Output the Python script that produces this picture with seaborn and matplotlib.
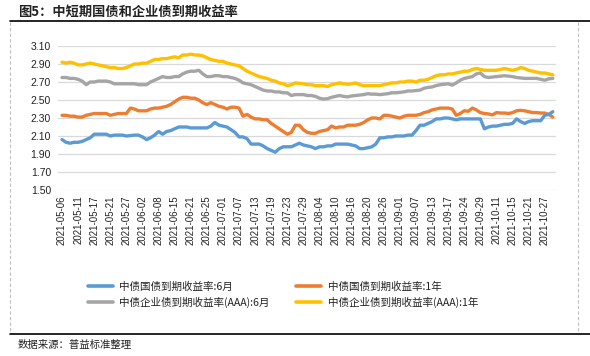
import matplotlib
matplotlib.use("Agg")
import matplotlib.pyplot as plt
from matplotlib.lines import Line2D
import seaborn as sns
import pandas as pd

# ---- data -------------------------------------------------------------
may = [6, 7, 8, 10, 11, 12, 13, 14, 17, 18, 19, 20, 21, 24, 25, 26, 27, 28, 31]
jun = [1, 2, 3, 4, 7, 8, 9, 10, 11, 15, 16, 17, 18, 21, 22, 23, 24, 25, 28, 29, 30]
jul = [1, 2, 5, 6, 7, 8, 9, 12, 13, 14, 15, 16, 19, 20, 21, 22, 23, 26, 27, 28, 29, 30]
aug = [2, 3, 4, 5, 6, 9, 10, 11, 12, 13, 16, 17, 18, 19, 20, 23, 24, 25, 26, 27, 30, 31]
sep = [1, 2, 3, 6, 7, 8, 9, 10, 13, 14, 15, 16, 17, 18, 22, 23, 24, 26, 27, 28, 29, 30]
oct_ = [8, 9, 11, 12, 13, 14, 15, 18, 19, 20, 21, 22, 25, 26, 27, 28, 29]
dates = ([f"2021-05-{d:02d}" for d in may] + [f"2021-06-{d:02d}" for d in jun] +
         [f"2021-07-{d:02d}" for d in jul] + [f"2021-08-{d:02d}" for d in aug] +
         [f"2021-09-{d:02d}" for d in sep] + [f"2021-10-{d:02d}" for d in oct_])

gov_6m = [2.06, 2.03, 2.02, 2.03, 2.03, 2.04, 2.06, 2.08, 2.12, 2.12, 2.12, 2.12, 2.10, 2.11, 2.11, 2.11,
          2.10, 2.105, 2.11, 2.11, 2.09, 2.06, 2.08, 2.11, 2.15, 2.12, 2.15, 2.16, 2.18, 2.20, 2.20, 2.20,
          2.19, 2.19, 2.19, 2.19, 2.19, 2.21, 2.25, 2.22, 2.21, 2.20, 2.17, 2.14, 2.09, 2.09, 2.07, 2.01,
          2.01, 2.01, 1.99, 1.96, 1.94, 1.92, 1.96, 1.98, 1.98, 1.98, 2.00, 2.02, 2.00, 1.99, 1.98, 1.96,
          1.98, 1.98, 1.99, 1.99, 2.01, 2.01, 2.01, 2.01, 2.00, 1.99, 1.96, 1.96, 1.97, 1.98, 2.01, 2.08,
          2.08, 2.09, 2.09, 2.10, 2.10, 2.10, 2.11, 2.11, 2.16, 2.22, 2.22, 2.24, 2.26, 2.29, 2.29, 2.30,
          2.30, 2.29, 2.28, 2.29, 2.29, 2.29, 2.29, 2.29, 2.29, 2.18, 2.20, 2.21, 2.21, 2.22, 2.23, 2.23,
          2.24, 2.29, 2.26, 2.24, 2.26, 2.27, 2.27, 2.27, 2.33, 2.34, 2.37]

gov_1y = [2.33, 2.33, 2.32, 2.32, 2.31, 2.31, 2.33, 2.34, 2.35, 2.35, 2.35, 2.35, 2.33, 2.34, 2.35, 2.35,
          2.35, 2.41, 2.40, 2.38, 2.38, 2.38, 2.40, 2.41, 2.41, 2.42, 2.43, 2.45, 2.48, 2.51, 2.53, 2.53,
          2.52, 2.52, 2.50, 2.47, 2.45, 2.47, 2.45, 2.43, 2.42, 2.40, 2.42, 2.42, 2.41, 2.32, 2.34, 2.31,
          2.29, 2.29, 2.28, 2.28, 2.24, 2.21, 2.18, 2.15, 2.12, 2.14, 2.22, 2.22, 2.17, 2.14, 2.13, 2.13,
          2.15, 2.16, 2.17, 2.21, 2.19, 2.20, 2.20, 2.22, 2.22, 2.22, 2.23, 2.25, 2.28, 2.30, 2.30, 2.29,
          2.33, 2.33, 2.32, 2.31, 2.30, 2.32, 2.33, 2.33, 2.33, 2.34, 2.36, 2.37, 2.39, 2.40, 2.41, 2.41,
          2.41, 2.40, 2.33, 2.35, 2.38, 2.375, 2.41, 2.39, 2.36, 2.35, 2.345, 2.335, 2.36, 2.355, 2.355,
          2.35, 2.36, 2.38, 2.385, 2.38, 2.37, 2.36, 2.36, 2.355, 2.355, 2.34, 2.31]

aaa_6m = [2.75, 2.75, 2.74, 2.74, 2.73, 2.71, 2.67, 2.70, 2.70, 2.71, 2.71, 2.71, 2.70, 2.68, 2.68, 2.68,
          2.68, 2.68, 2.68, 2.67, 2.67, 2.67, 2.70, 2.72, 2.74, 2.76, 2.75, 2.75, 2.76, 2.76, 2.79, 2.81,
          2.82, 2.82, 2.83, 2.79, 2.76, 2.76, 2.77, 2.77, 2.76, 2.76, 2.75, 2.74, 2.72, 2.69, 2.68, 2.67,
          2.65, 2.63, 2.61, 2.60, 2.60, 2.59, 2.59, 2.58, 2.58, 2.55, 2.56, 2.56, 2.56, 2.55, 2.55, 2.54,
          2.52, 2.51, 2.515, 2.53, 2.54, 2.55, 2.54, 2.535, 2.545, 2.55, 2.555, 2.56, 2.57, 2.565, 2.565,
          2.56, 2.565, 2.57, 2.58, 2.58, 2.585, 2.59, 2.60, 2.60, 2.605, 2.61, 2.63, 2.64, 2.645, 2.66,
          2.67, 2.675, 2.68, 2.665, 2.69, 2.72, 2.74, 2.75, 2.76, 2.79, 2.80, 2.76, 2.75, 2.755, 2.76,
          2.765, 2.77, 2.765, 2.76, 2.75, 2.745, 2.74, 2.74, 2.74, 2.74, 2.73, 2.72, 2.735, 2.74]

aaa_1y = [2.92, 2.91, 2.92, 2.91, 2.89, 2.89, 2.90, 2.91, 2.90, 2.89, 2.88, 2.87, 2.86, 2.86, 2.85, 2.85,
          2.86, 2.88, 2.90, 2.90, 2.91, 2.91, 2.93, 2.95, 2.95, 2.96, 2.96, 2.97, 2.98, 2.97, 3.00, 3.00,
          3.01, 3.00, 3.00, 2.99, 2.97, 2.95, 2.94, 2.93, 2.93, 2.91, 2.90, 2.89, 2.88, 2.85, 2.82, 2.80,
          2.78, 2.76, 2.75, 2.74, 2.72, 2.71, 2.69, 2.68, 2.66, 2.67, 2.69, 2.685, 2.68, 2.67, 2.67, 2.66,
          2.66, 2.66, 2.65, 2.67, 2.68, 2.69, 2.68, 2.675, 2.68, 2.69, 2.67, 2.66, 2.66, 2.66, 2.66, 2.66,
          2.67, 2.68, 2.69, 2.69, 2.70, 2.70, 2.71, 2.71, 2.70, 2.72, 2.72, 2.73, 2.75, 2.77, 2.78, 2.78,
          2.79, 2.79, 2.80, 2.81, 2.82, 2.82, 2.84, 2.85, 2.84, 2.83, 2.83, 2.83, 2.83, 2.84, 2.85, 2.84,
          2.83, 2.84, 2.86, 2.85, 2.83, 2.82, 2.81, 2.80, 2.80, 2.79, 2.78]

series_names = ["中债国债到期收益率:6月", "中债企业债到期收益率(AAA):6月",
                "中债国债到期收益率:1年", "中债企业债到期收益率(AAA):1年"]
series_values = [gov_6m, aaa_6m, gov_1y, aaa_1y]
colors = ["#5B9BD5", "#A5A5A5", "#ED7D31", "#FFC000"]
y_ticks = [1.50, 1.70, 1.90, 2.10, 2.30, 2.50, 2.70, 2.90, 3.10]
title = "图5：中短期国债和企业债到期收益率"
source = "数据来源：普益标准整理"

# ---- long-form frame ---------------------------------------------------
rows = []
for name, vals in zip(series_names, series_values):
    for i, v in enumerate(vals):
        rows.append({"idx": i, "date": dates[i], "value": v, "series": name})
df = pd.DataFrame(rows)

# ---- plot ---------------------------------------------------------------
sns.set_theme(style="white")
plt.rcParams["font.family"] = ["Noto Sans CJK SC", "DejaVu Sans"]

fig = plt.figure(figsize=(5.90, 3.56), dpi=100)
ax = fig.add_axes([58 / 590, 1 - 190 / 356, (556 - 58) / 590, (190 - 46) / 356])

palette = dict(zip(series_names, colors))
sns.lineplot(data=df, x="idx", y="value", hue="series", palette=palette,
             hue_order=[series_names[3], series_names[1], series_names[2], series_names[0]],
             linewidth=2.4, legend=False, ax=ax)

ax.set_ylim(1.50, 3.10)
ax.set_yticks(y_ticks)
ax.set_yticklabels([f"{v:.2f}" for v in y_ticks], fontsize=7.5, color="#222222",
                   family=["Liberation Sans", "DejaVu Sans"])
ax.grid(axis="y", color="#D9D9D9", linewidth=0.9)
ax.grid(axis="x", visible=False)
ax.set_axisbelow(True)

n = len(dates)
ax.set_xlim(-1.0, n - 1 + 0.8)
tick_idx = list(range(0, n, 4))
ax.set_xticks(tick_idx)
ax.set_xticklabels([dates[i] for i in tick_idx], rotation=90, fontsize=7,
                   color="#222222", family=["Liberation Sans", "DejaVu Sans"])
ax.tick_params(axis="both", length=0, pad=4)
ax.tick_params(axis="y", pad=5)
ax.set_xlabel("")
ax.set_ylabel("")
for s in ax.spines.values():
    s.set_visible(False)

# legend
handles = [Line2D([0], [0], color=c, lw=2.6) for c in colors]
fig.legend(handles, series_names, ncol=2, loc="upper left",
           bbox_to_anchor=(78 / 590, 1 - 272 / 356), frameon=False,
           handlelength=2.4, handletextpad=0.6,
           columnspacing=2.5, labelspacing=0.45,
           prop={"family": ["Noto Sans CJK SC", "DejaVu Sans"], "size": 7.6})
for t in fig.legends[0].get_texts():
    t.set_color("#222222")

# title, frame lines, source
fig.text(18 / 590, 1 - 12 / 356, title, fontsize=9.5, fontweight="bold",
         color="#222222", va="center", ha="left")
fig.add_artist(Line2D([10 / 590, 1.0], [1 - 21 / 356] * 2, color="black", lw=1.2))
fig.add_artist(Line2D([10 / 590, 1.0], [1 - 334 / 356] * 2, color="black", lw=1.2))
fig.add_artist(Line2D([10 / 590] * 2, [1 - 22 / 356, 1 - 333 / 356],
                      color="#BFBFBF", lw=0.8, ls=(0, (3, 2))))
fig.add_artist(Line2D([578 / 590] * 2, [1 - 22 / 356, 1 - 333 / 356],
                      color="#BFBFBF", lw=0.8, ls=(0, (3, 2))))
fig.text(18 / 590, 1 - 345 / 356, source, fontsize=7.5, color="#222222",
         va="center", ha="left")

fig.savefig("out.png", dpi=100)
